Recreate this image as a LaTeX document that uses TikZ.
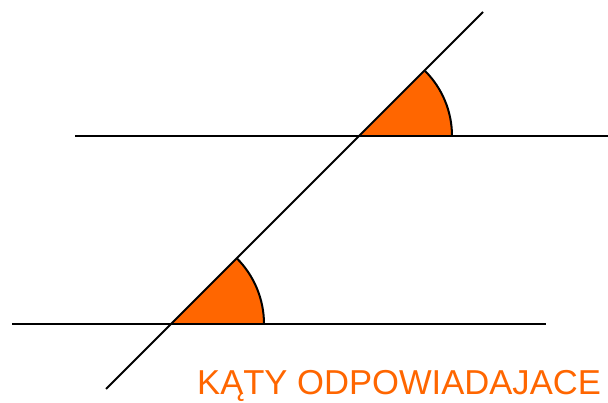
\documentclass[tikz,border=0pt]{standalone}
\usepackage{fontspec}
\setmainfont{Liberation Sans}
\definecolor{angorange}{HTML}{FF6600}
\begin{document}
\begin{tikzpicture}[x=1pt,y=-1pt,
  ln/.style={line width=2pt, black},
  arcln/.style={line width=2pt, black},
  lbl/.style={text=angorange, font=\fontsize{34.6}{36}\selectfont, inner sep=0pt, anchor=base west}]
\useasboundingbox (0,0) rectangle (608,403);
% intersections
\coordinate (P) at (360,136);
\coordinate (Q) at (171,324);
% angle sectors
\fill[angorange] (P) -- ++(92,0) arc[start angle=0, end angle=-45, radius=92] -- cycle;
\draw[arcln] (P) ++(92,0) arc[start angle=0, end angle=-45, radius=92];
\fill[angorange] (Q) -- ++(93,0) arc[start angle=0, end angle=-45, radius=93] -- cycle;
\draw[arcln] (Q) ++(93,0) arc[start angle=0, end angle=-45, radius=93];
% lines
\coordinate (T1) at (75,136);
\coordinate (T2) at (608,136);
\coordinate (B1) at (12,324);
\coordinate (B2) at (546,324);
\coordinate (S1) at (106,389);
\coordinate (S2) at (483,12);
\draw[ln] (T1) -- (T2);
\draw[ln] (B1) -- (B2);
\draw[ln] (S1) -- (S2);
\node[lbl] (txt) at (197,395) {KĄTY ODPOWIADAJACE};
\end{tikzpicture}
\end{document}
